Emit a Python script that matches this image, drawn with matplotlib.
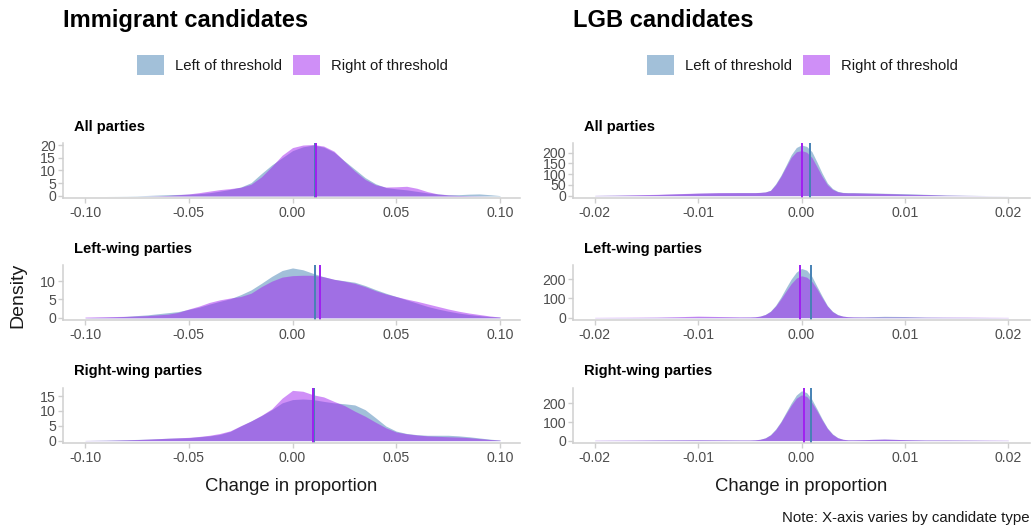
import matplotlib
matplotlib.use("Agg")
import matplotlib.pyplot as plt
from matplotlib.patches import Patch
from matplotlib.ticker import FixedLocator, FixedFormatter

plt.rcParams['font.family'] = ['Liberation Sans', 'DejaVu Sans']

# ---------------- data ----------------
panel_titles = ["All parties", "Left-wing parties", "Right-wing parties"]
column_titles = ["Immigrant candidates", "LGB candidates"]
series_labels = ["Left of threshold", "Right of threshold"]

# Immigrant candidates: density evaluated on a grid of changes in proportion
imm_x = [-0.100, -0.095, -0.090, -0.085, -0.080, -0.075, -0.070, -0.065, -0.060,
         -0.055, -0.050, -0.045, -0.040, -0.035, -0.030, -0.025, -0.020, -0.015,
         -0.010, -0.005, 0.000, 0.005, 0.010, 0.015, 0.020, 0.025, 0.030, 0.035,
         0.040, 0.045, 0.050, 0.055, 0.060, 0.065, 0.070, 0.075, 0.080, 0.085,
         0.090, 0.095, 0.100]

imm_all_left = [0, 0, 0, 0.02, 0.05, 0.1, 0.2, 0.35, 0.5, 0.6, 0.7, 0.9, 1.3, 1.9,
                2.6, 3.5, 5.2, 8.8, 12.2, 15.0, 17.8, 19.3, 20.0, 19.2, 17.2, 13.8,
                10.5, 7.2, 4.8, 3.3, 2.8, 2.4, 1.8, 1.2, 0.8, 0.5, 0.5, 0.7, 0.8,
                0.5, 0.15]
imm_all_right = [0, 0, 0, 0, 0, 0, 0.02, 0.08, 0.2, 0.5, 0.8, 1.3, 1.9, 2.5, 2.9,
                 3.4, 4.6, 7.5, 11.6, 16.0, 19.0, 20.0, 20.2, 19.6, 17.6, 13.6, 9.8,
                 6.5, 4.4, 3.5, 3.6, 3.8, 3.0, 1.7, 0.8, 0.4, 0.2, 0.1, 0.05, 0, 0]

imm_lw_left = [0.05, 0.1, 0.15, 0.25, 0.4, 0.6, 0.8, 1.1, 1.4, 1.7, 2.3, 2.9, 3.75,
               4.5, 5.2, 6.3, 7.6, 9.4, 11.3, 12.9, 13.6, 13.1, 12.1, 11.2, 10.5,
               10.1, 9.7, 8.8, 7.7, 6.7, 5.8, 4.9, 4.0, 3.1, 2.4, 1.8, 1.3, 0.9,
               0.6, 0.35, 0.2]
imm_lw_right = [0.2, 0.25, 0.3, 0.35, 0.4, 0.5, 0.6, 0.8, 1.0, 1.5, 2.4, 3.2, 4.2,
                4.9, 5.4, 5.8, 6.7, 8.5, 10.0, 11.1, 11.5, 11.6, 11.6, 11.2, 10.5,
                10.0, 9.4, 8.5, 7.4, 6.5, 5.8, 5.1, 4.5, 3.8, 3.1, 2.4, 1.8, 1.3,
                0.9, 0.5, 0.2]

imm_rw_left = [0.05, 0.1, 0.15, 0.22, 0.3, 0.4, 0.5, 0.65, 0.8, 0.9, 1.0, 1.3, 1.6,
               2.1, 3.1, 4.9, 6.6, 8.4, 10.4, 12.7, 13.8, 14.0, 13.8, 13.2, 12.7,
               12.4, 12.0, 10.4, 7.7, 4.9, 3.2, 2.4, 2.0, 1.8, 1.8, 1.8, 1.6, 1.3,
               0.9, 0.5, 0.2]
imm_rw_right = [0.05, 0.08, 0.1, 0.17, 0.25, 0.35, 0.5, 0.65, 0.8, 0.95, 1.1, 1.4,
                1.8, 2.4, 3.3, 5.0, 6.6, 8.5, 10.7, 14.3, 16.9, 16.6, 15.4, 14.7,
                13.2, 11.8, 9.9, 8.2, 6.2, 4.3, 2.9, 2.3, 1.9, 1.6, 1.45, 1.3, 1.2,
                1.0, 0.7, 0.4, 0.15]

# LGB candidates
lgb_x = [-0.020, -0.018, -0.016, -0.014, -0.012, -0.010, -0.008, -0.006, -0.005,
         -0.0045, -0.004, -0.0035, -0.003, -0.0025, -0.002, -0.0015, -0.001,
         -0.0005, 0.0, 0.0005, 0.001, 0.0015, 0.002, 0.0025, 0.003, 0.0035, 0.004,
         0.0045, 0.005, 0.006, 0.008, 0.010, 0.012, 0.014, 0.016, 0.018, 0.020]

lgb_all_left = [1, 2, 3, 5, 8, 11, 13, 14, 14, 14, 15, 17, 25, 55, 94, 141, 190,
                224, 236, 229, 205, 156, 104, 59, 33, 20, 15, 14, 14, 13, 11, 9, 6,
                3, 1.5, 0.5, 0.2]
lgb_all_right = [1, 2, 4, 6, 9, 12, 14, 14, 14, 14, 15, 17, 24, 51, 89, 134, 178,
                 204, 210, 202, 178, 134, 89, 51, 29, 18, 14, 13, 13, 12, 10, 7, 5,
                 2, 1, 0.3, 0.1]

lgb_lw_left = [0.5, 0.8, 1, 1.5, 2, 3, 3, 2.5, 3, 4, 8, 17, 34, 64, 106, 154, 200,
               236, 255, 246, 214, 162, 111, 63, 33, 16, 8, 5, 4, 4, 7, 6, 3, 2,
               1.5, 1, 0.5]
lgb_lw_right = [1.5, 2, 2.5, 3, 5, 8, 6, 4, 4, 5, 8, 16, 32, 60, 97, 137, 176, 205,
                217, 210, 188, 149, 103, 60, 31, 15, 8, 5, 4, 3, 3, 3, 2.5, 2.5,
                2.5, 2, 1.5]

lgb_rw_left = [1, 1.5, 2, 3, 3.5, 4, 3.5, 3, 3, 4, 7, 15, 32, 62, 102, 152, 202,
               245, 268, 258, 222, 170, 116, 68, 36, 16, 7, 4, 4, 5, 8, 5, 3, 3,
               2.5, 1.5, 1]
lgb_rw_right = [1.5, 2, 2.5, 3, 3.5, 4, 3.5, 3, 3, 4, 7, 14, 30, 58, 98, 145, 190,
                228, 246, 238, 205, 160, 110, 65, 33, 15, 7, 4, 4, 5, 8, 5, 3, 3,
                2.5, 2, 1.5]

# Mean change per group (vertical reference lines)
imm_mean_left = [0.0108, 0.0108, 0.0105]
imm_mean_right = [0.0113, 0.0133, 0.0100]
lgb_mean_left = [0.0008, 0.0009, 0.0009]
lgb_mean_right = [0.0000, -0.0001, 0.0002]

imm_xticks = [-0.10, -0.05, 0.00, 0.05, 0.10]
imm_xticklabels = ["-0.10", "-0.05", "0.00", "0.05", "0.10"]
lgb_xticks = [-0.02, -0.01, 0.00, 0.01, 0.02]
lgb_xticklabels = ["-0.02", "-0.01", "0.00", "0.01", "0.02"]

imm_yticks = [[0, 5, 10, 15, 20], [0, 5, 10], [0, 5, 10, 15]]
lgb_yticks = [[0, 50, 100, 150, 200], [0, 100, 200], [0, 100, 200]]

# ---------------- style ----------------
BLUE = "#4682B4"
PURPLE = "#A020F0"
FILL_ALPHA = 0.5
AXIS_GREY = "#cfcfcf"
TICK_TEXT = "#4d4d4d"

W, H = 1036, 530
fig = plt.figure(figsize=(W / 100, H / 100), dpi=100)


def fx(px):
    return px / W


def fy(py):
    return 1 - py / H


col_left_px = [63, 573]
col_width_px = 457
row_top_px = [143, 265, 388]
row_height_px = 55
title_baseline_px = [131, 253, 375]

columns = [
    dict(x=imm_x, xticks=imm_xticks, xlabels=imm_xticklabels,
         xlim=(-0.1106, 0.1096), yticks=imm_yticks,
         ylims=[(-0.8, 20.8), (-0.6, 14.4), (-0.8, 17.7)],
         left=[imm_all_left, imm_lw_left, imm_rw_left],
         right=[imm_all_right, imm_lw_right, imm_rw_right],
         mleft=imm_mean_left, mright=imm_mean_right),
    dict(x=lgb_x, xticks=lgb_xticks, xlabels=lgb_xticklabels,
         xlim=(-0.0221, 0.0221), yticks=lgb_yticks,
         ylims=[(-11, 245), (-12, 273), (-13, 283)],
         left=[lgb_all_left, lgb_lw_left, lgb_rw_left],
         right=[lgb_all_right, lgb_lw_right, lgb_rw_right],
         mleft=lgb_mean_left, mright=lgb_mean_right),
]

for c, col in enumerate(columns):
    x0 = col_left_px[c]
    for r in range(3):
        top = row_top_px[r]
        ax = fig.add_axes([fx(x0), fy(top + row_height_px),
                           col_width_px / W, row_height_px / H])
        ax.fill_between(col["x"], 0, col["left"][r], color=BLUE,
                        alpha=FILL_ALPHA, linewidth=0)
        ax.fill_between(col["x"], 0, col["right"][r], color=PURPLE,
                        alpha=FILL_ALPHA, linewidth=0)
        ax.axvline(col["mleft"][r], color=BLUE, linewidth=1.4)
        ax.axvline(col["mright"][r], color=PURPLE, linewidth=1.4)

        ax.set_xlim(*col["xlim"])
        ax.set_ylim(*col["ylims"][r])
        ax.xaxis.set_major_locator(FixedLocator(col["xticks"]))
        ax.xaxis.set_major_formatter(FixedFormatter(col["xlabels"]))
        ax.yaxis.set_major_locator(FixedLocator(col["yticks"][r]))
        ax.yaxis.set_major_formatter(
            FixedFormatter([str(v) for v in col["yticks"][r]]))

        for side in ("top", "right"):
            ax.spines[side].set_visible(False)
        for side in ("left", "bottom"):
            ax.spines[side].set_color(AXIS_GREY)
            ax.spines[side].set_linewidth(1.1)
        ax.tick_params(axis="both", colors=AXIS_GREY, labelcolor=TICK_TEXT,
                       labelsize=10.2, length=3.5, width=1.0, pad=2)
        ax.tick_params(axis="y", pad=1.5)
        ax.patch.set_alpha(0)

        fig.text(fx(x0 + 11), fy(title_baseline_px[r]), panel_titles[r],
                 fontsize=10.6, fontweight="bold", color="black",
                 ha="left", va="baseline")

    # column heading
    fig.text(fx(x0), fy(27), column_titles[c], fontsize=17,
             fontweight="bold", color="black", ha="left", va="baseline")

    # x-axis label
    fig.text(fx(x0 + col_width_px / 2), fy(491), "Change in proportion",
             fontsize=13.3, color="#1a1a1a", ha="center", va="baseline")

    # legend
    handles = [Patch(facecolor=BLUE, alpha=FILL_ALPHA, edgecolor="none"),
               Patch(facecolor=PURPLE, alpha=FILL_ALPHA, edgecolor="none")]
    fig.legend(handles, series_labels, loc="center",
               bbox_to_anchor=(fx(x0 + 229.5), fy(65)), ncol=2, frameon=False,
               fontsize=10.7, handlelength=1.81, handleheight=1.75,
               handletextpad=0.74, columnspacing=0.74, borderpad=0,
               labelcolor="#1a1a1a")

fig.text(fx(18), fy(295), "Density", rotation=90, fontsize=14,
         color="#1a1a1a", ha="center", va="center")

fig.text(fx(1030), fy(522), "Note: X-axis varies by candidate type",
         fontsize=10.8, color="#1a1a1a", ha="right", va="baseline")

fig.savefig("out.png", dpi=100)
